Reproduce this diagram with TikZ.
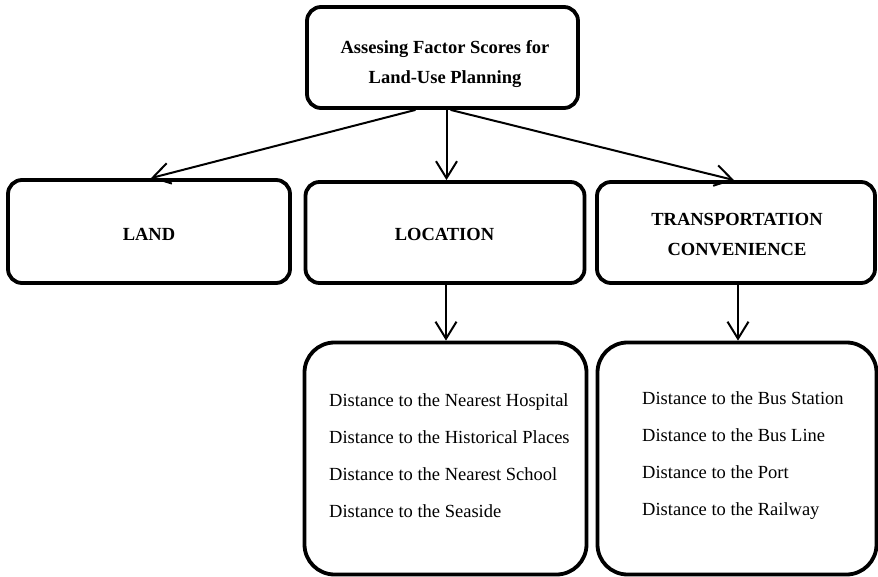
\documentclass[tikz,border=0pt]{standalone}
\usepackage{fontspec}
\setmainfont{Liberation Serif}
\usetikzlibrary{arrows.meta}
\begin{document}
\begin{tikzpicture}[x=1pt,y=-1pt,
  box/.style={draw, line width=3.8pt, rounded corners=14pt, inner sep=0pt},
  listbox/.style={box, rounded corners=30pt},
  head/.style={font=\bfseries\fontsize{18.5}{30}\selectfont, align=center, inner sep=0pt},
  item/.style={font=\fontsize{18.5}{37}\selectfont, align=left, anchor=west, inner sep=0pt},
  arr/.style={line width=2pt, -{Straight Barb[length=17pt,width=21pt,line width=2pt]}}]
\useasboundingbox (0,0) rectangle (878,577);

% boxes
\node[box, minimum width=271pt, minimum height=101pt] (root) at (442.5,57.5) {};
\node[box, minimum width=282pt, minimum height=103pt] (land) at (149,231.5) {};
\node[box, minimum width=279pt, minimum height=101pt] (loc) at (445,232.5) {};
\node[box, minimum width=278pt, minimum height=101pt] (trans) at (736,232.5) {};
\node[listbox, minimum width=282pt, minimum height=232pt] (detL) at (445.5,458.5) {};
\node[listbox, minimum width=279pt, minimum height=232pt] (detR) at (737,458.5) {};

% texts
\node[head] (rootText) at (445,64) {Assesing Factor Scores for\\Land-Use Planning};
\node[head] (landText) at (149,234) {LAND};
\node[head] (locText) at (444.5,234) {LOCATION};
\node[head] (transText) at (737,235) {TRANSPORTATION\\CONVENIENCE};
\node[item] (locList) at (329,455.5) {Distance to the Nearest Hospital\\Distance to the Historical Places\\Distance to the Nearest School\\Distance to the Seaside};
\node[item] (transList) at (642,455.5) {Distance to the Bus Station\\Distance to the Bus Line\\Distance to the Port\\Distance to the Railway};

% connectors
\draw[arr] ([xshift=-27pt]root.south) -- ([xshift=2pt]land.north);
\draw[arr] ([xshift=4pt]root.south) -- ([xshift=1.5pt]loc.north);
\draw[arr] ([xshift=8pt]root.south) -- ([xshift=-2pt]trans.north);
\draw[arr] ([xshift=1pt]loc.south) -- ([xshift=1pt]loc.south |- detL.north);
\draw[arr] ([xshift=2pt]trans.south) -- ([xshift=2pt]trans.south |- detR.north);
\end{tikzpicture}
\end{document}
